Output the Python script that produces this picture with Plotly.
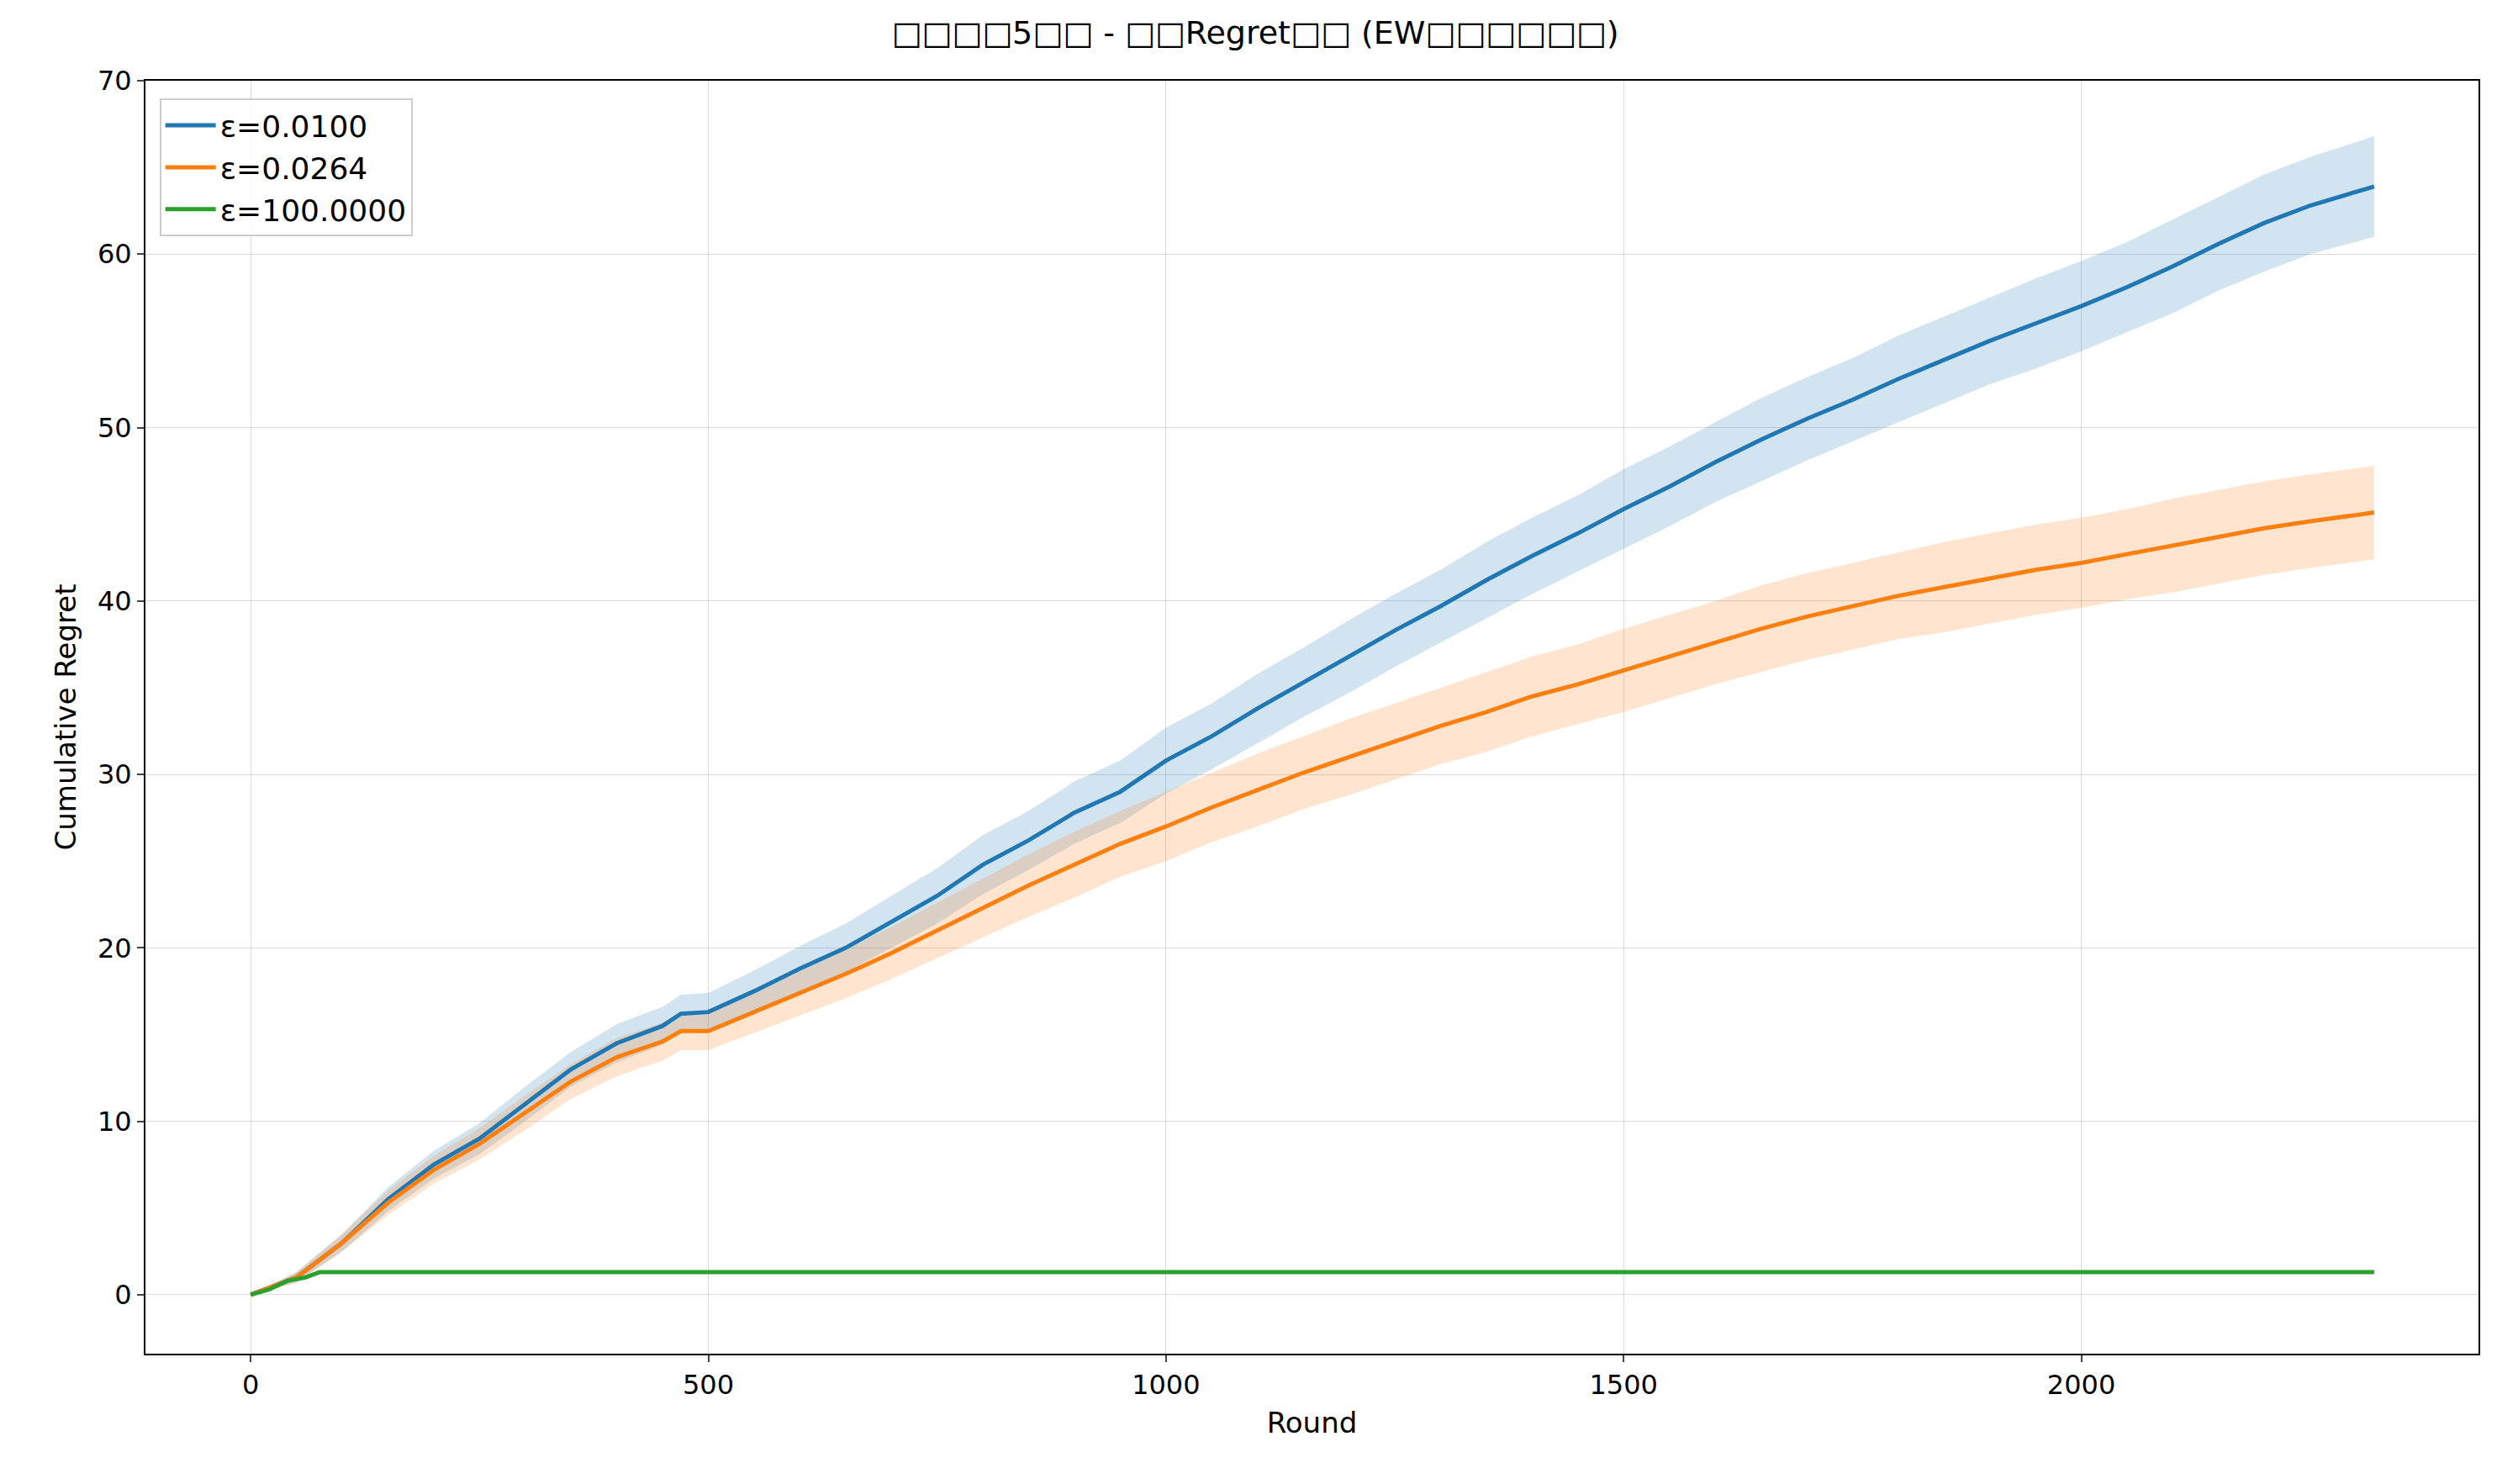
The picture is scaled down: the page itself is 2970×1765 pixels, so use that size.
import plotly.graph_objects as go

rounds = [0, 50, 100, 150, 200, 250, 300, 350, 400, 450, 470, 500, 550, 600, 650, 700, 750, 800,
          850, 900, 950, 1000, 1050, 1100, 1150, 1200, 1250, 1300, 1350, 1400, 1450, 1500, 1550,
          1600, 1650, 1700, 1750, 1800, 1850, 1900, 1950, 2000, 2050, 2100, 2150, 2200, 2250, 2320]

blue_mean = [0, 1.0, 3.0, 5.5, 7.5, 9.0, 11.0, 13.0, 14.5, 15.5, 16.2, 16.3, 17.5, 18.8, 20.0, 21.5,
             23.0, 24.8, 26.2, 27.8, 29.0, 30.8, 32.2, 33.8, 35.3, 36.8, 38.3, 39.7, 41.2, 42.6, 43.9,
             45.3, 46.6, 48.0, 49.3, 50.5, 51.6, 52.8, 53.9, 55.0, 56.0, 57.0, 58.1, 59.3, 60.6, 61.8,
             62.8, 63.9]
blue_err = [0, 0.3, 0.5, 0.7, 0.8, 0.9, 1.0, 1.0, 1.1, 1.1, 1.1, 1.1, 1.2, 1.3, 1.4, 1.5, 1.6, 1.7,
            1.7, 1.8, 1.8, 1.9, 1.9, 2.0, 2.0, 2.1, 2.1, 2.1, 2.2, 2.2, 2.2, 2.3, 2.3, 2.3, 2.4, 2.4,
            2.4, 2.5, 2.5, 2.5, 2.6, 2.6, 2.6, 2.7, 2.7, 2.8, 2.8, 2.9]

orange_mean = [0, 1.0, 3.0, 5.3, 7.2, 8.7, 10.5, 12.3, 13.7, 14.6, 15.2, 15.2, 16.3, 17.4, 18.5,
               19.7, 21.0, 22.3, 23.6, 24.8, 26.0, 27.0, 28.1, 29.1, 30.1, 31.0, 31.9, 32.8, 33.6,
               34.5, 35.2, 36.0, 36.8, 37.6, 38.4, 39.1, 39.7, 40.3, 40.8, 41.3, 41.8, 42.2, 42.7,
               43.2, 43.7, 44.2, 44.6, 45.1]
orange_err = [0, 0.3, 0.5, 0.7, 0.8, 0.9, 1.0, 1.0, 1.1, 1.1, 1.1, 1.1, 1.2, 1.3, 1.4, 1.5, 1.6,
              1.7, 1.8, 1.9, 1.9, 2.0, 2.0, 2.1, 2.1, 2.2, 2.2, 2.2, 2.3, 2.3, 2.3, 2.4, 2.4, 2.4,
              2.5, 2.5, 2.5, 2.5, 2.6, 2.6, 2.6, 2.6, 2.6, 2.7, 2.7, 2.7, 2.7, 2.7]

green_rounds = [0, 20, 40, 60, 75, 2320]
green_mean = [0, 0.3, 0.8, 1.0, 1.3, 1.3]

series = [
    ("ε=0.0100", rounds, blue_mean, blue_err, "#1f77b4", "rgba(31,119,180,0.2)"),
    ("ε=0.0264", rounds, orange_mean, orange_err, "#ff7f0e", "rgba(255,127,14,0.2)"),
]

fig = go.Figure()
for name, x, m, e, col, fill in series:
    upper = [a + b for a, b in zip(m, e)]
    lower = [a - b for a, b in zip(m, e)]
    fig.add_trace(go.Scatter(x=x + x[::-1], y=upper + lower[::-1], fill="toself",
                             fillcolor=fill, line=dict(width=0), hoverinfo="skip",
                             showlegend=False))
for name, x, m, e, col, fill in series:
    fig.add_trace(go.Scatter(x=x, y=m, mode="lines", name=name, line=dict(color=col, width=5)))
fig.add_trace(go.Scatter(x=green_rounds, y=green_mean, mode="lines", name="ε=100.0000",
                         line=dict(color="#2ca02c", width=5)))

axis = dict(showline=True, mirror=True, linecolor="black", linewidth=2, ticks="outside",
            ticklen=8, tickwidth=2, showgrid=True, gridcolor="rgba(0,0,0,0.14)", zeroline=False,
            tickfont=dict(size=32), title_font=dict(size=34))
fig.update_layout(
    width=2970, height=1765, plot_bgcolor="white", paper_bgcolor="white",
    font=dict(family="DejaVu Sans", color="black"),
    margin=dict(l=165, r=30, t=88, b=163),
    title=dict(text="□□□□5□□ - □□Regret□□ (EW□□□□□□)", x=0.5, xanchor="center",
               y=0.99, yanchor="top", font=dict(size=38)),
    xaxis=dict(axis, range=[-115, 2434], tickvals=[0, 500, 1000, 1500, 2000], title_text="Round"),
    yaxis=dict(axis, range=[-3.4, 70], tickvals=[0, 10, 20, 30, 40, 50, 60, 70],
               title_text="Cumulative Regret"),
    legend=dict(x=0.006, y=0.986, xanchor="left", yanchor="top", bordercolor="#cccccc",
                borderwidth=2, font=dict(size=36), itemwidth=60, tracegroupgap=8,
                bgcolor="rgba(255,255,255,0.8)"),
)
fig.write_html("out.html")
